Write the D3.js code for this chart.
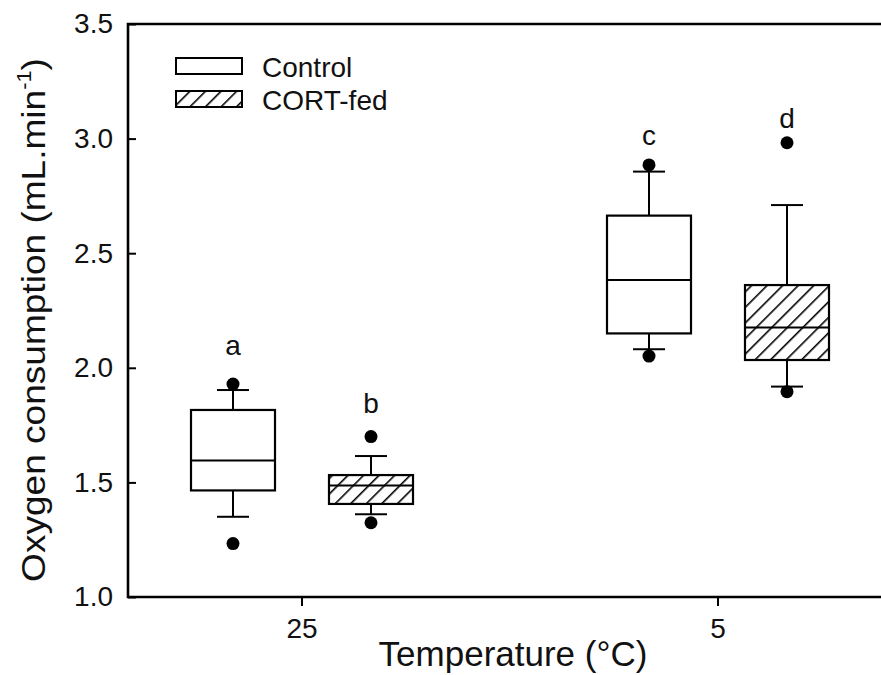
<!DOCTYPE html>
<html>
<head>
<meta charset="utf-8">
<script src="https://cdn.jsdelivr.net/npm/d3@7"></script>
<style>
  html, body { margin: 0; padding: 0; background: #fff; }
  svg { display: block; font-family: "Liberation Sans", Arial, sans-serif; }
</style>
</head>
<body>
<svg id="chart" width="881" height="675"></svg>
<script>
// ---- Data ----
const categories = ["25", "5"];
const groups = ["Control", "CORT-fed"];
const yTicks = [1.0, 1.5, 2.0, 2.5, 3.0, 3.5];

const controlQ1 = [1.465, 2.150];
const controlMedian = [1.596, 2.383];
const controlQ3 = [1.816, 2.664];
const controlWhiskerLow = [1.350, 2.081];
const controlWhiskerHigh = [1.903, 2.856];
const controlOutlierLow = [1.233, 2.051];
const controlOutlierHigh = [1.929, 2.885];

const cortQ1 = [1.406, 2.034];
const cortMedian = [1.486, 2.176];
const cortQ3 = [1.532, 2.361];
const cortWhiskerLow = [1.361, 1.918];
const cortWhiskerHigh = [1.615, 2.710];
const cortOutlierLow = [1.324, 1.896];
const cortOutlierHigh = [1.700, 2.982];

const controlLetters = ["a", "c"];
const cortLetters = ["b", "d"];
const controlLetterLevel = [2.056, 2.972];
const cortLetterLevel = [1.804, 3.045];

// ---- Build records ----
const records = [];
categories.forEach((c, i) => {
  records.push({cat: c, group: "Control", q1: controlQ1[i], med: controlMedian[i], q3: controlQ3[i],
    wl: controlWhiskerLow[i], wh: controlWhiskerHigh[i], outs: [controlOutlierLow[i], controlOutlierHigh[i]],
    letter: controlLetters[i], letterLevel: controlLetterLevel[i]});
  records.push({cat: c, group: "CORT-fed", q1: cortQ1[i], med: cortMedian[i], q3: cortQ3[i],
    wl: cortWhiskerLow[i], wh: cortWhiskerHigh[i], outs: [cortOutlierLow[i], cortOutlierHigh[i]],
    letter: cortLetters[i], letterLevel: cortLetterLevel[i]});
});

const svg = d3.select("#chart");
const mLeft = 128, mRight = 881, mTop = 24, mBottom = 597;

const y = d3.scaleLinear().domain([1.0, 3.5]).range([mBottom, mTop]);
const x0 = d3.scaleBand().domain(categories).range([94, 926]);
const x1 = d3.scaleBand().domain(groups).range([-138, 138]);
const boxW = 84, capW = 32;

// Hatch pattern
const defs = svg.append("defs");
const pat = defs.append("pattern").attr("id", "hatch")
  .attr("patternUnits", "userSpaceOnUse").attr("width", 11).attr("height", 11)
  .attr("patternTransform", "rotate(45)");
pat.append("rect").attr("width", 11).attr("height", 11).attr("fill", "#fff");
pat.append("line").attr("x1", 0).attr("y1", 0).attr("x2", 0).attr("y2", 11)
  .attr("stroke", "#000").attr("stroke-width", 3.2);

const fillFor = g => g === "Control" ? "#fff" : "url(#hatch)";

// Axes
const yAxis = d3.axisLeft(y).tickValues(yTicks).tickFormat(d3.format(".1f")).tickSize(-8).tickPadding(15);
const gy = svg.append("g").attr("transform", `translate(${mLeft},0)`).call(yAxis);
gy.select(".domain").remove();
gy.selectAll(".tick line").attr("stroke", "#000").attr("stroke-width", 2);
gy.selectAll(".tick text").attr("font-size", 28).attr("fill", "#111")
  .attr("font-family", "Liberation Sans, Arial, sans-serif");

const xAxis = d3.axisBottom(x0).tickSize(9).tickPadding(12);
const gx = svg.append("g").attr("transform", `translate(0,${mBottom})`).call(xAxis);
gx.select(".domain").remove();
gx.selectAll(".tick line").attr("stroke", "#000").attr("stroke-width", 2);
gx.selectAll(".tick text").attr("font-size", 28).attr("fill", "#111")
  .attr("font-family", "Liberation Sans, Arial, sans-serif");

// Frame
svg.append("path")
  .attr("d", `M${mRight},${mTop}H${mLeft}V${mBottom}H${mRight}`)
  .attr("fill", "none").attr("stroke", "#000").attr("stroke-width", 2.6);

// Boxes
const bx = svg.append("g").selectAll("g").data(records).join("g")
  .attr("transform", d => `translate(${x0(d.cat) + x0.bandwidth() / 2 + x1(d.group) + x1.bandwidth() / 2},0)`);

bx.append("line").attr("x1", 0).attr("x2", 0).attr("y1", d => y(d.wh)).attr("y2", d => y(d.q3))
  .attr("stroke", "#000").attr("stroke-width", 2);
bx.append("line").attr("x1", 0).attr("x2", 0).attr("y1", d => y(d.q1)).attr("y2", d => y(d.wl))
  .attr("stroke", "#000").attr("stroke-width", 2);
bx.append("line").attr("x1", -capW / 2).attr("x2", capW / 2).attr("y1", d => y(d.wh)).attr("y2", d => y(d.wh))
  .attr("stroke", "#000").attr("stroke-width", 2);
bx.append("line").attr("x1", -capW / 2).attr("x2", capW / 2).attr("y1", d => y(d.wl)).attr("y2", d => y(d.wl))
  .attr("stroke", "#000").attr("stroke-width", 2);
bx.append("rect").attr("x", -boxW / 2).attr("width", boxW)
  .attr("y", d => y(d.q3)).attr("height", d => y(d.q1) - y(d.q3))
  .attr("fill", d => fillFor(d.group)).attr("stroke", "#000").attr("stroke-width", 2.2);
bx.append("line").attr("x1", -boxW / 2).attr("x2", boxW / 2).attr("y1", d => y(d.med)).attr("y2", d => y(d.med))
  .attr("stroke", "#000").attr("stroke-width", 2);
bx.selectAll("circle").data(d => d.outs).join("circle")
  .attr("cx", 0).attr("cy", v => y(v)).attr("r", 6.5).attr("fill", "#000");
bx.append("text").attr("x", 0).attr("y", d => y(d.letterLevel)).attr("text-anchor", "middle")
  .attr("font-size", 28).attr("fill", "#111").text(d => d.letter);

// Legend
const legend = svg.append("g");
groups.forEach((g, i) => {
  const ly = 58 + i * 33;
  legend.append("rect").attr("x", 176).attr("y", ly).attr("width", 66).attr("height", 16)
    .attr("fill", fillFor(g)).attr("stroke", "#000").attr("stroke-width", 2);
  legend.append("text").attr("x", 262).attr("y", ly + 19).attr("font-size", 28).attr("fill", "#111").text(g);
});

// Axis titles
svg.append("text").attr("x", 513).attr("y", 666).attr("text-anchor", "middle")
  .attr("font-size", 35).attr("fill", "#111").text("Temperature (°C)");

const yt = svg.append("text").attr("transform", "translate(45,320) rotate(-90) scale(1.09,1)")
  .attr("text-anchor", "middle").attr("font-size", 34).attr("fill", "#111");
yt.append("tspan").text("Oxygen consumption (mL.min");
yt.append("tspan").attr("font-size", 20).attr("dy", -14).text("-1");
yt.append("tspan").attr("dy", 14).text(")");
</script>
</body>
</html>
